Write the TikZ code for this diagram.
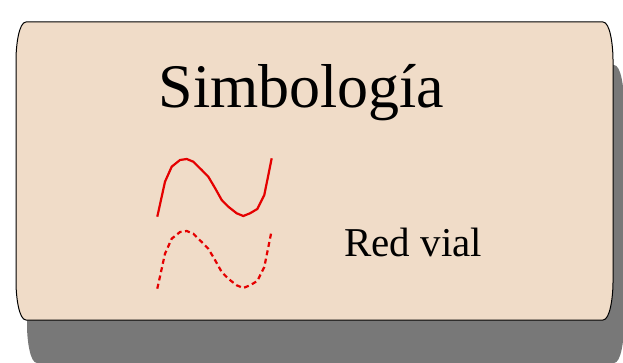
\documentclass[tikz,border=0pt]{standalone}
\usepackage{fontspec}
\setmainfont{Liberation Serif}
\definecolor{boxfill}{RGB}{240,220,200}
\definecolor{shadowgray}{RGB}{120,120,120}
\tikzset{
  boxpath/.style={line width=1pt},
  roadline/.style={red!90!black, line width=2.2pt, line join=round},
  roaddash/.style={roadline, dash pattern=on 5pt off 3.5pt}
}
\begin{document}
\begin{tikzpicture}[x=1pt,y=-1pt]
\useasboundingbox (0,0) rectangle (623,363);
\def\boxshape{(26,22) -- (603,22) .. controls (610,22) and (613,45) .. (613,60) -- (613,282) .. controls (613,297) and (610,320) .. (603,320) -- (26,320) .. controls (19,320) and (16,297) .. (16,282) -- (16,60) .. controls (16,45) and (19,22) .. (26,22) -- cycle}
\begin{scope}
\clip (0,0) rectangle (623,363);
\fill[shadowgray, shift={(11,43)}] \boxshape;
\end{scope}
\filldraw[boxpath, fill=boxfill, draw=black] \boxshape;
\node[anchor=base, inner sep=0pt, font=\fontsize{62}{70}\selectfont] (title) at (301.5,108) {Simbología};
\draw[roadline] (157.3,216.7) -- (165,181.7) -- (171.7,166.7) -- (180,160) -- (186.7,159) -- (193.3,161.7) -- (201.7,170) -- (208.3,176.7) -- (215,188) -- (221.7,200) -- (228.3,206.7) -- (236.7,213.3) -- (243.3,216) -- (250,213.3) -- (257.3,209) -- (264.3,195) -- (271.7,158.3);
\begin{scope}[shift={(0,72)}]
\draw[roaddash] (157.3,216.7) -- (165,181.7) -- (171.7,166.7) -- (180,160) -- (186.7,159) -- (193.3,161.7) -- (201.7,170) -- (208.3,176.7) -- (215,188) -- (221.7,200) -- (228.3,206.7) -- (236.7,213.3) -- (243.3,216) -- (250,213.3) -- (257.3,209) -- (264.3,195) -- (271.7,158.3);
\end{scope}
\node[anchor=base west, inner sep=0pt, font=\fontsize{41}{48}\selectfont] (label) at (344,256) {Red vial};
\end{tikzpicture}
\end{document}
